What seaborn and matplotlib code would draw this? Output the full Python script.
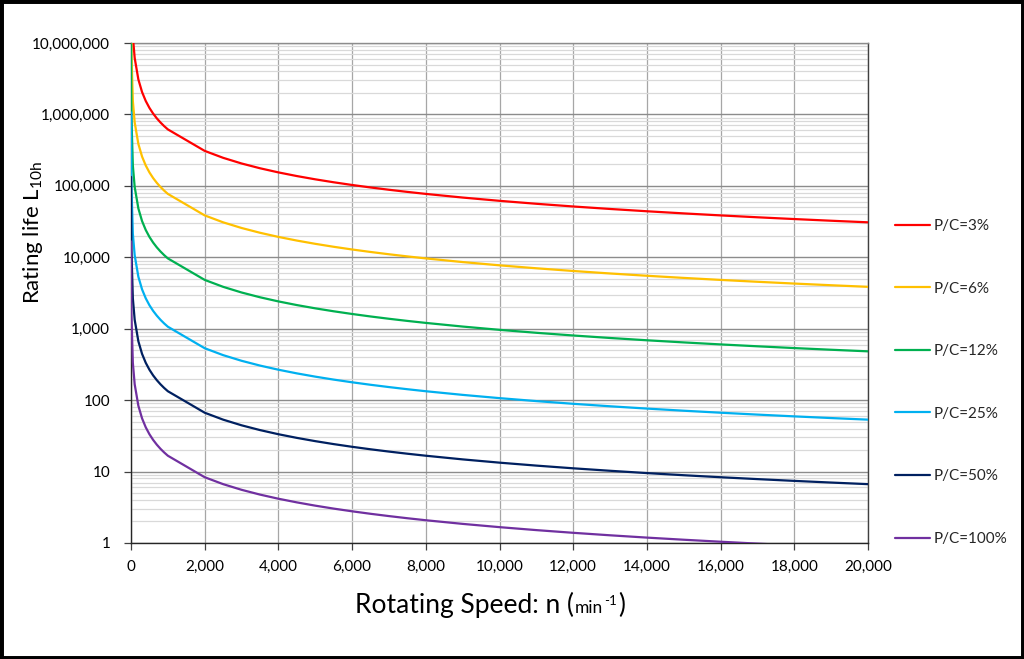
import matplotlib
matplotlib.use("Agg")
import matplotlib.pyplot as plt
import numpy as np
import pandas as pd
import seaborn as sns
from matplotlib.ticker import FixedLocator, FuncFormatter, LogLocator, NullFormatter
from matplotlib.patches import Rectangle

# ---------------- data ----------------
speed = [1, 10, 50, 100, 200, 300, 400, 500, 600, 700, 800, 900, 1000,
         2000, 2500, 3000, 3500, 4000, 4500, 5000, 5500, 6000, 6500, 7000, 7500, 8000, 9000, 10000,
         11000, 12000, 13000, 14000, 15000, 16000, 17000, 18000, 19000, 20000]

life_pc3 = [617283951, 61728395, 12345679, 6172840, 3086420, 2057613, 1543210, 1234568, 1028807, 881834, 771605, 685871, 617284,
            308642, 246914, 205761, 176367, 154321, 137174, 123457, 112233, 102881, 94967, 88183, 82305, 77160, 68587, 61728,
            56117, 51440, 47483, 44092, 41152, 38580, 36311, 34294, 32489, 30864]
life_pc6 = [77160494, 7716049, 1543210, 771605, 385802, 257202, 192901, 154321, 128601, 110229, 96451, 85734, 77160,
            38580, 30864, 25720, 22046, 19290, 17147, 15432, 14029, 12860, 11871, 11023, 10288, 9645, 8573, 7716,
            7015, 6430, 5935, 5511, 5144, 4823, 4539, 4287, 4061, 3858]
life_pc12 = [9645062, 964506, 192901, 96451, 48225, 32150, 24113, 19290, 16075, 13779, 12056, 10717, 9645,
             4823, 3858, 3215, 2756, 2411, 2143, 1929, 1754, 1608, 1484, 1378, 1286, 1206, 1072, 964.5,
             876.8, 803.8, 741.9, 688.9, 643.0, 602.8, 567.4, 535.8, 507.6, 482.3]
life_pc25 = [1066667, 106667, 21333, 10667, 5333, 3556, 2667, 2133, 1778, 1524, 1333, 1185, 1066.7,
             533.3, 426.7, 355.6, 304.8, 266.7, 237.0, 213.3, 193.9, 177.8, 164.1, 152.4, 142.2, 133.3, 118.5, 106.7,
             96.97, 88.89, 82.05, 76.19, 71.11, 66.67, 62.75, 59.26, 56.14, 53.33]
life_pc50 = [133333, 13333, 2667, 1333, 666.7, 444.4, 333.3, 266.7, 222.2, 190.5, 166.7, 148.1, 133.3,
             66.67, 53.33, 44.44, 38.10, 33.33, 29.63, 26.67, 24.24, 22.22, 20.51, 19.05, 17.78, 16.67, 14.81, 13.33,
             12.12, 11.11, 10.26, 9.524, 8.889, 8.333, 7.843, 7.407, 7.018, 6.667]
life_pc100 = [16667, 1666.7, 333.3, 166.7, 83.33, 55.56, 41.67, 33.33, 27.78, 23.81, 20.83, 18.52, 16.67,
              8.333, 6.667, 5.556, 4.762, 4.167, 3.704, 3.333, 3.030, 2.778, 2.564, 2.381, 2.222, 2.083, 1.852, 1.667,
              1.515, 1.389, 1.282, 1.190, 1.111, 1.042, 0.980, 0.926, 0.877, 0.833]

series_labels = ["P/C=3%", "P/C=6%", "P/C=12%", "P/C=25%", "P/C=50%", "P/C=100%"]
series_values = [life_pc3, life_pc6, life_pc12, life_pc25, life_pc50, life_pc100]
colors = ["#FF0000", "#FFC000", "#00B050", "#00B0F0", "#002060", "#7030A0"]

x_ticks = [0, 2000, 4000, 6000, 8000, 10000, 12000, 14000, 16000, 18000, 20000]
y_ticks = [1, 10, 100, 1000, 10000, 100000, 1000000, 10000000]

# ---------------- styling ----------------
sns.set_theme(style="white")
plt.rcParams["font.family"] = ["Lato", "DejaVu Sans"]
plt.rcParams["mathtext.default"] = "regular"

W, H = 1024, 659
fig = plt.figure(figsize=(W / 100, H / 100), dpi=100)
ax = fig.add_axes([131 / W, (H - 543) / H, 737 / W, 500 / H])

df = pd.concat(
    [pd.DataFrame({"speed": speed, "life": vals, "series": lab})
     for vals, lab in zip(series_values, series_labels)],
    ignore_index=True,
)

sns.lineplot(data=df, x="speed", y="life", hue="series", hue_order=series_labels,
             palette=colors, estimator=None, sort=False, linewidth=1.6, ax=ax, zorder=3)

ax.set_yscale("log")
ax.set_ylim(1, 1e7)
ax.set_xlim(0, 20000)

ax.xaxis.set_major_locator(FixedLocator(x_ticks))
ax.yaxis.set_major_locator(FixedLocator(y_ticks))
ax.yaxis.set_minor_locator(LogLocator(base=10, subs=np.arange(2, 10), numticks=20))
ax.yaxis.set_minor_formatter(NullFormatter())
fmt = FuncFormatter(lambda v, p: f"{v:,.0f}")
ax.xaxis.set_major_formatter(fmt)
ax.yaxis.set_major_formatter(fmt)

ax.set_axisbelow(True)
ax.grid(which="major", axis="y", color="#8c8c8c", linewidth=1.0)
ax.grid(which="minor", axis="y", color="#d9d9d9", linewidth=0.9)
ax.grid(which="major", axis="x", color="#a6a6a6", linewidth=0.9)

ax.tick_params(axis="both", which="major", bottom=True, left=True, direction="out",
               length=5, width=0.9, color="#404040", labelsize=11, labelcolor="black")
ax.tick_params(axis="y", which="major", pad=10)
ax.tick_params(axis="x", which="major", pad=7)
ax.tick_params(axis="y", which="minor", left=False, length=0)

for side in ["left", "bottom"]:
    ax.spines[side].set_color("#262626")
    ax.spines[side].set_linewidth(1.0)
ax.spines["right"].set_color("#404040")
ax.spines["right"].set_linewidth(1.0)
ax.spines["top"].set_color("#8c8c8c")
ax.spines["top"].set_linewidth(1.0)

ax.set_xlabel("")
ax.set_ylabel("")

# legend
handles, labels = ax.get_legend_handles_labels()
if ax.get_legend() is not None:
    ax.get_legend().remove()
ax.legend(handles, labels, loc="center left",
          bbox_to_anchor=(889 / W, 1 - 382.5 / H), bbox_transform=fig.transFigure,
          frameon=False, fontsize=11, handlelength=2.3, handletextpad=0.2,
          labelspacing=3.18, borderaxespad=0)

# y label
fig.text(33 / W, 1 - 232 / H, "Rating life L$_{10h}$", rotation=90,
         ha="center", va="center", fontsize=16, color="black")

# x label composed of parts
fig.canvas.draw()
renderer = fig.canvas.get_renderer()
parts = [("Rotating Speed: n (", 19, 0, 1), ("min", 12.5, 0, 1), ("-1", 9.5, 8, 1), (")", 19, 0, 0)]
base_y = H - 613
objs = []
widths = []
for txt, fs, rise, gap in parts:
    t = fig.text(0, (base_y + rise) / H, txt, fontsize=fs, ha="left", va="baseline", color="black")
    objs.append(t)
    widths.append(t.get_window_extent(renderer).width + gap)
total = sum(widths)
x = 490 - total / 2
for t, w in zip(objs, widths):
    t.set_x(x / W)
    x += w

# black border around figure
fig.patches.append(Rectangle((0, 0), 1, 1, transform=fig.transFigure, fill=False,
                             edgecolor="black", linewidth=5, zorder=100))

fig.savefig("out.png", dpi=100)
